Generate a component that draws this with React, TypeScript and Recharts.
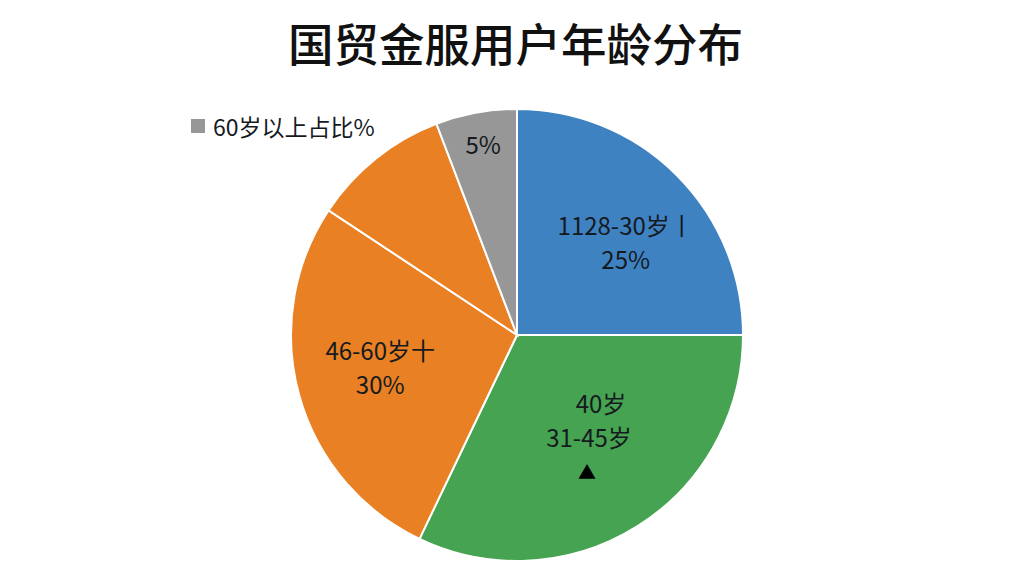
import { PieChart, Pie, Cell, Legend } from "recharts";

const categories = ["18-30岁", "31-45岁", "46-60岁", "其他", "60岁以上"];
const values = [25, 32.1, 27.2, 9.9, 5.8];
const colors = ["#3F82C1", "#46A351", "#E98023", "#E98023", "#979797"];
const sliceLabels = [
  ["1128-30岁丨", "25%"],
  ["40岁", "31-45岁", "▲"],
  ["46-60岁十", "30%"],
  [],
  ["5%"],
];
const legendLabel = "60岁以上占比%";

const FONT = "'Noto Sans CJK SC', 'Noto Sans', sans-serif";
const RAD = Math.PI / 180;

const data = categories.map((name, i) => ({ name, value: values[i] }));

// distance of each label from the centre, and a small nudge where it sits off the radius
const labelRadius = [141, 120, 143, 0, 192];
const labelNudgeX = [9, 8, 1, 0, 1];
const labelNudgeY = [6, 0, -7, 0, -3];
const lineGap = 34;

function renderLabel(props: any) {
  const { cx, cy, midAngle, index } = props;
  const lines = sliceLabels[index];
  if (!lines.length) return null;

  const x = cx + labelRadius[index] * Math.cos(-midAngle * RAD) + labelNudgeX[index];
  const y = cy + labelRadius[index] * Math.sin(-midAngle * RAD) + labelNudgeY[index];
  const top = y - ((lines.length - 1) * lineGap) / 2;

  return (
    <text
      key={index}
      x={x}
      textAnchor="middle"
      fill="#151a1f"
      fontSize={24}
      fontFamily={FONT}
    >
      {lines.map((line, i) => (
        <tspan
          key={i}
          // the "40岁" line sits right of the one below it, the triangle is small
          x={line === "40岁" ? x + 12 : line === "▲" ? x - 2 : x}
          y={top + i * lineGap}
          dominantBaseline="central"
          fontSize={line === "▲" ? 18 : 24}
          fill={line === "▲" ? "#000" : "#151a1f"}
        >
          {line}
        </tspan>
      ))}
    </text>
  );
}

function LegendContent() {
  return (
    <div
      style={{
        display: "flex",
        alignItems: "center",
        fontFamily: FONT,
        fontSize: 23,
        color: "#151a1f",
        whiteSpace: "nowrap",
      }}
    >
      <span
        style={{
          width: 14,
          height: 14,
          background: colors[4],
          marginRight: 8,
        }}
      />
      {legendLabel}
    </div>
  );
}

export default function App() {
  return (
    <div
      style={{
        position: "absolute",
        left: 0,
        top: 0,
        width: 1024,
        height: 576,
        background: "#fff",
        overflow: "hidden",
      }}
    >
      <div
        style={{
          position: "absolute",
          left: 7,
          right: 0,
          top: 11,
          textAlign: "center",
          fontFamily: FONT,
          fontSize: 45.5,
          fontWeight: 500,
          color: "#111",
          lineHeight: "62px",
        }}
      >
        国贸金服用户年龄分布
      </div>
      <PieChart
        width={1024}
        height={576}
        margin={{ top: 0, right: 0, bottom: 0, left: 0 }}
      >
        <Pie
          data={data}
          dataKey="value"
          cx={517}
          cy={335}
          outerRadius={226}
          startAngle={90}
          endAngle={-270}
          stroke="#fff"
          strokeWidth={2}
          label={renderLabel}
          labelLine={false}
          isAnimationActive={false}
        >
          {data.map((d, i) => (
            <Cell key={d.name} fill={colors[i]} />
          ))}
        </Pie>
        <Legend
          content={<LegendContent />}
          wrapperStyle={{ left: 191, top: 109, width: 220, bottom: "auto" }}
        />
      </PieChart>
    </div>
  );
}
